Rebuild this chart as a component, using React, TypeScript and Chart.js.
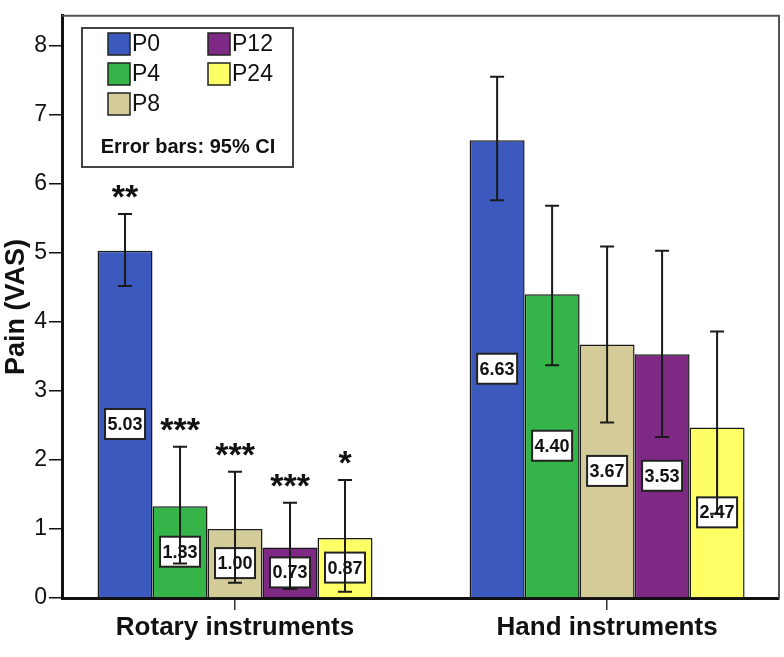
import { useEffect, useRef } from "react";
import { Chart, registerables } from "chart.js";

Chart.register(...registerables);

const categories = ["Rotary instruments", "Hand instruments"];
const categoryX = [0, 1];
const seriesNames = ["P0", "P4", "P8", "P12", "P24"];
const seriesColors = ["#3c59bd", "#35b44a", "#d3cc98", "#7e2a84", "#ffff66"];

const p0Mean = [5.03, 6.63];
const p4Mean = [1.33, 4.4];
const p8Mean = [1.0, 3.67];
const p12Mean = [0.73, 3.53];
const p24Mean = [0.87, 2.47];

const p0Low = [4.52, 5.76];
const p0High = [5.56, 7.55];
const p4Low = [0.5, 3.37];
const p4High = [2.19, 5.68];
const p8Low = [0.22, 2.54];
const p8High = [1.83, 5.09];
const p12Low = [0.13, 2.33];
const p12High = [1.38, 5.03];
const p24Low = [0.09, 1.22];
const p24High = [1.71, 3.86];

const p0Stars = ["**", ""];
const p4Stars = ["***", ""];
const p8Stars = ["***", ""];
const p12Stars = ["***", ""];
const p24Stars = ["*", ""];

const yTicks = [0, 1, 2, 3, 4, 5, 6, 7, 8];

const means = [p0Mean, p4Mean, p8Mean, p12Mean, p24Mean];
const lows = [p0Low, p4Low, p8Low, p12Low, p24Low];
const highs = [p0High, p4High, p8High, p12High, p24High];
const stars = [p0Stars, p4Stars, p8Stars, p12Stars, p24Stars];

const FONT = "'Liberation Sans', Arial, sans-serif";

const overlayPlugin = {
  id: "overlay",
  afterDatasetsDraw(chart: any) {
    const ctx = chart.ctx;
    const y = chart.scales.y;
    const area = chart.chartArea;
    ctx.save();
    // frame top/right
    ctx.strokeStyle = "#555";
    ctx.lineWidth = 2;
    ctx.beginPath();
    ctx.moveTo(area.left, area.top);
    ctx.lineTo(area.right, area.top);
    ctx.lineTo(area.right, area.bottom);
    ctx.stroke();

    // value labels
    chart.data.datasets.forEach((ds: any, i: number) => {
      const meta = chart.getDatasetMeta(i);
      meta.data.forEach((el: any, j: number) => {
        const cy = (el.y + el.base) / 2;
        const w = 40;
        const h = 30;
        ctx.fillStyle = "#fff";
        ctx.fillRect(el.x - w / 2, cy - h / 2, w, h);
        ctx.strokeStyle = "#222";
        ctx.lineWidth = 2;
        ctx.strokeRect(el.x - w / 2, cy - h / 2, w, h);
        ctx.fillStyle = "#111";
        ctx.font = `bold 18px ${FONT}`;
        ctx.textAlign = "center";
        ctx.textBaseline = "middle";
        ctx.fillText(means[i][j].toFixed(2), el.x, cy + 1);
      });
    });

    // error bars
    chart.data.datasets.forEach((ds: any, i: number) => {
      const meta = chart.getDatasetMeta(i);
      meta.data.forEach((el: any, j: number) => {
        const yl = y.getPixelForValue(lows[i][j]);
        const yh = y.getPixelForValue(highs[i][j]);
        ctx.strokeStyle = "#1a1a1a";
        ctx.lineWidth = 2;
        ctx.beginPath();
        ctx.moveTo(el.x, yl);
        ctx.lineTo(el.x, yh);
        ctx.moveTo(el.x - 7, yl);
        ctx.lineTo(el.x + 7, yl);
        ctx.moveTo(el.x - 7, yh);
        ctx.lineTo(el.x + 7, yh);
        ctx.stroke();
        const s = stars[i][j];
        if (s) {
          ctx.fillStyle = "#111";
          ctx.font = `bold 34px ${FONT}`;
          ctx.textAlign = "center";
          ctx.textBaseline = "alphabetic";
          ctx.fillText(s, el.x, yh - 6);
        }
      });
    });
    ctx.restore();
  },
  afterDraw(chart: any) {
    const ctx = chart.ctx;
    ctx.save();
    const bx = 82, by = 28, bw = 211, bh = 139;
    ctx.fillStyle = "#fff";
    ctx.fillRect(bx, by, bw, bh);
    ctx.strokeStyle = "#444";
    ctx.lineWidth = 2;
    ctx.strokeRect(bx, by, bw, bh);
    const positions = [
      [108, 44],
      [108, 74],
      [108, 104],
      [208, 44],
      [208, 74],
    ];
    chart.data.datasets.forEach((ds: any, i: number) => {
      const [sx, sy] = positions[i];
      ctx.fillStyle = ds.backgroundColor;
      ctx.fillRect(sx, sy - 11, 22, 22);
      ctx.strokeStyle = "#222";
      ctx.lineWidth = 1.5;
      ctx.strokeRect(sx, sy - 11, 22, 22);
      ctx.fillStyle = "#111";
      ctx.font = `23px ${FONT}`;
      ctx.textAlign = "left";
      ctx.textBaseline = "middle";
      ctx.fillText(ds.label, sx + 24, sy + 1);
    });
    ctx.font = `bold 20px ${FONT}`;
    ctx.textAlign = "center";
    ctx.textBaseline = "middle";
    ctx.fillStyle = "#111";
    ctx.fillText("Error bars: 95% CI", 188, 147);
    ctx.restore();
  },
};

export default function App() {
  const ref = useRef<HTMLCanvasElement>(null);
  useEffect(() => {
    if (!ref.current) return;
    const chart = new Chart(ref.current, {
      type: "bar",
      data: {
        datasets: seriesNames.map((name, i) => ({
          label: name,
          data: categoryX.map((x, j) => ({ x, y: means[i][j] })),
          backgroundColor: seriesColors[i],
          borderColor: "#1a1a1a",
          borderWidth: 1.5,
          barPercentage: 1,
          categoryPercentage: 0.739,
        })),
      },
      options: {
        animation: false,
        responsive: false,
        maintainAspectRatio: false,
        layout: { padding: { top: 13, right: 5, left: 0, bottom: 0 } },
        plugins: { legend: { display: false }, tooltip: { enabled: false } },
        scales: {
          x: {
            type: "linear",
            min: -0.465,
            max: 1.462,
            offset: false,
            afterBuildTicks: (s: any) => {
              s.ticks = categoryX.map((v) => ({ value: v }));
            },
            afterFit: (s: any) => {
              s.height = 59;
            },
            ticks: {
              autoSkip: false,
              maxRotation: 0,
              padding: 2,
              color: "#111",
              font: { family: FONT, size: 26, weight: "bold" },
              callback: (v: any) => {
                const k = categoryX.indexOf(Number(v));
                return k >= 0 ? categories[k] : "";
              },
            },
            grid: { drawOnChartArea: false, offset: false, tickLength: 12, color: "#333", lineWidth: 1.5 },
            border: { color: "#111", width: 3 },
          },
          y: {
            min: 0,
            max: 8.432,
            afterBuildTicks: (s: any) => {
              s.ticks = yTicks.map((v) => ({ value: v }));
            },
            afterFit: (s: any) => {
              s.width = 62;
            },
            ticks: {
              padding: 2,
              color: "#111",
              font: { family: FONT, size: 23 },
            },
            grid: { drawOnChartArea: false, tickLength: 13, color: "#111", lineWidth: 1.5 },
            border: { color: "#111", width: 3 },
            title: {
              display: true,
              text: "Pain (VAS)",
              color: "#111",
              font: { family: FONT, size: 27, weight: "bold" },
              padding: { top: 0, bottom: 0 },
            },
          },
        },
      },
      plugins: [overlayPlugin],
    } as any);
    return () => chart.destroy();
  }, []);
  return (
    <div style={{ position: "fixed", left: 0, top: 0, width: 784, height: 657, background: "#fff" }}>
      <canvas ref={ref} width={784} height={657} style={{ width: 784, height: 657, display: "block" }} />
    </div>
  );
}
